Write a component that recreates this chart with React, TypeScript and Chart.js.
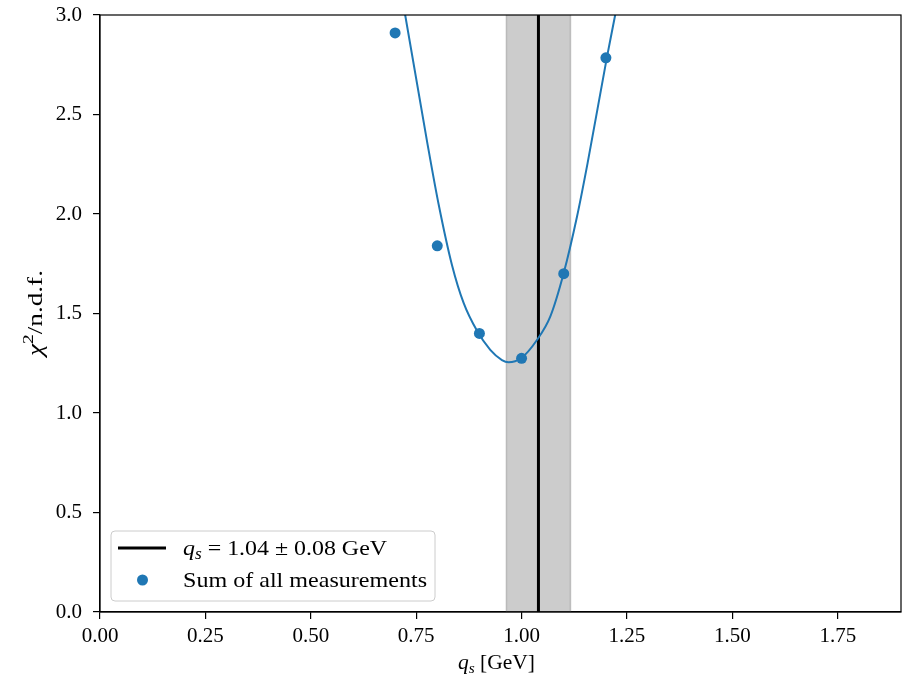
import React, { useEffect, useRef } from "react";
import { Chart, registerables } from "chart.js";

Chart.register(...registerables);

// ---- data ----
const xTicks = [0, 0.25, 0.5, 0.75, 1.0, 1.25, 1.5, 1.75];
const yTicks = [0, 0.5, 1.0, 1.5, 2.0, 2.5, 3.0];
const qsValues = [0.7, 0.8, 0.9, 1.0, 1.1, 1.2];
const chi2Values = [2.91, 1.84, 1.4, 1.275, 1.7, 2.785];
const fitX = [0.7, 0.7239, 0.777, 0.8031, 0.8347, 0.8625, 0.894, 0.9257, 0.9534, 0.969, 0.9986, 1.0365, 1.068, 1.0998, 1.1314, 1.1567, 1.2025, 1.222, 1.24];
const fitY = [3.32, 3.0, 2.35, 2.05, 1.745, 1.553, 1.414, 1.317, 1.266, 1.255, 1.275, 1.367, 1.484, 1.702, 1.986, 2.257, 2.788, 3.0, 3.2];
const qsBest = 1.04;
const qsBandLow = 0.964;
const qsBandHigh = 1.116;
const legendLine = "q_s = 1.04 ± 0.08 GeV";
const legendPoints = "Sum of all measurements";

const SERIF = '"Liberation Serif", "DejaVu Serif", serif';
const BLUE = "#1f77b4";

type Run = { text: string; font: string; dy?: number };

function drawRuns(ctx: CanvasRenderingContext2D, runs: Run[], x: number, y: number, target?: number) {
  let total = 0;
  const widths = runs.map((r) => {
    ctx.font = r.font;
    const w = ctx.measureText(r.text).width;
    total += w;
    return w;
  });
  const sx = target ? target / total : 1;
  ctx.save();
  ctx.translate(x, y);
  ctx.scale(sx, 1);
  let cx = 0;
  runs.forEach((r, i) => {
    ctx.font = r.font;
    ctx.fillText(r.text, cx, r.dy || 0);
    cx += widths[i];
  });
  ctx.restore();
}

const decorPlugin = {
  id: "decor",
  beforeDatasetsDraw(chart: any) {
    const { ctx, chartArea, scales } = chart;
    const x1 = scales.x.getPixelForValue(qsBandLow);
    const x2 = scales.x.getPixelForValue(qsBandHigh);
    ctx.save();
    ctx.fillStyle = "rgba(128,128,128,0.4)";
    ctx.fillRect(x1, chartArea.top, x2 - x1, chartArea.bottom - chartArea.top);
    ctx.strokeStyle = "rgba(128,128,128,0.4)";
    ctx.lineWidth = 1.5;
    ctx.beginPath();
    ctx.moveTo(x1, chartArea.top);
    ctx.lineTo(x1, chartArea.bottom);
    ctx.moveTo(x2, chartArea.top);
    ctx.lineTo(x2, chartArea.bottom);
    ctx.stroke();
    ctx.restore();
  },
  afterDraw(chart: any) {
    const { ctx, chartArea } = chart;
    ctx.save();
    // frame
    ctx.strokeStyle = "#000";
    ctx.lineWidth = 1.2;
    ctx.strokeRect(chartArea.left, chartArea.top, chartArea.right - chartArea.left, chartArea.bottom - chartArea.top);

    ctx.fillStyle = "#000";
    ctx.textBaseline = "alphabetic";
    ctx.textAlign = "left";
    // x title
    const [qPart, rest] = legendLine.split(" = ");
    drawRuns(
      ctx,
      [
        { text: "q", font: `italic 21px ${SERIF}` },
        { text: "s", font: `italic 15px ${SERIF}`, dy: 4 },
        { text: " [GeV]", font: `21px ${SERIF}` },
      ],
      458,
      669,
      77
    );
    // y title (rotated)
    ctx.save();
    ctx.translate(42, 356);
    ctx.rotate(-Math.PI / 2);
    drawRuns(
      ctx,
      [
        { text: "χ", font: `italic 21px ${SERIF}` },
        { text: "2", font: `15px ${SERIF}`, dy: -9 },
        { text: "/n.d.f.", font: `21px ${SERIF}` },
      ],
      0,
      0,
      86
    );
    ctx.restore();

    // legend
    const bx = 111, by = 531, bw = 324, bh = 70;
    ctx.beginPath();
    ctx.roundRect(bx, by, bw, bh, 4);
    ctx.fillStyle = "rgba(255,255,255,0.8)";
    ctx.fill();
    ctx.strokeStyle = "#cccccc";
    ctx.lineWidth = 1;
    ctx.stroke();

    ctx.strokeStyle = "#000";
    ctx.lineWidth = 3;
    ctx.beginPath();
    ctx.moveTo(118, 548);
    ctx.lineTo(166, 548);
    ctx.stroke();

    ctx.fillStyle = BLUE;
    ctx.beginPath();
    ctx.arc(142.5, 580, 5.5, 0, Math.PI * 2);
    ctx.fill();

    ctx.fillStyle = "#000";
    drawRuns(
      ctx,
      [
        { text: qPart.charAt(0), font: `italic 22px ${SERIF}` },
        { text: "s", font: `italic 16px ${SERIF}`, dy: 4 },
        { text: " = " + rest, font: `22px ${SERIF}` },
      ],
      183,
      555,
      204
    );
    drawRuns(ctx, [{ text: legendPoints, font: `22px ${SERIF}` }], 183, 587, 244);
    ctx.restore();
  },
};

export default function App() {
  const ref = useRef<HTMLCanvasElement | null>(null);
  useEffect(() => {
    document.body.style.margin = "0";
    const canvas = ref.current!;
    const axisCommon = {
      type: "linear" as const,
      grid: {
        display: true,
        drawOnChartArea: false,
        drawTicks: true,
        tickLength: 7,
        color: "#000",
        lineWidth: 1.2,
      },
      border: { display: true, color: "#000", width: 1.2 },
    };
    const chart = new Chart(canvas, {
      type: "scatter",
      data: {
        datasets: [
          {
            label: legendPoints,
            data: qsValues.map((x, i) => ({ x, y: chi2Values[i] })),
            backgroundColor: BLUE,
            borderColor: BLUE,
            pointRadius: 5.5,
            pointBorderWidth: 0,
            showLine: false,
            order: 1,
          },
          {
            label: "fit",
            data: fitX.map((x, i) => ({ x, y: fitY[i] })),
            borderColor: BLUE,
            borderWidth: 2,
            pointRadius: 0,
            showLine: true,
            cubicInterpolationMode: "monotone",
            order: 2,
          },
          {
            label: legendLine,
            data: [
              { x: qsBest, y: 0 },
              { x: qsBest, y: 3 },
            ],
            borderColor: "#000",
            borderWidth: 3,
            pointRadius: 0,
            showLine: true,
            tension: 0,
            order: 3,
          },
        ] as any,
      },
      options: {
        animation: false,
        responsive: false,
        layout: { padding: { top: 15, right: 12, left: 0, bottom: 0 } },
        plugins: { legend: { display: false }, tooltip: { enabled: false } },
        scales: {
          x: {
            ...axisCommon,
            min: 0,
            max: 1.9,
            afterBuildTicks: (s: any) => {
              s.ticks = xTicks.map((v) => ({ value: v }));
            },
            afterFit: (s: any) => {
              s.height = 68;
              s.paddingLeft = 0;
              s.paddingRight = 0;
            },
            ticks: {
              color: "#000",
              padding: 5,
              font: { family: SERIF, size: 21 },
              maxRotation: 0,
              callback: (v: any) => Number(v).toFixed(2),
            },
          },
          y: {
            ...axisCommon,
            min: 0,
            max: 3,
            afterBuildTicks: (s: any) => {
              s.ticks = yTicks.map((v) => ({ value: v }));
            },
            afterFit: (s: any) => {
              s.width = 100;
              s.paddingTop = 0;
              s.paddingBottom = 0;
            },
            ticks: {
              color: "#000",
              padding: 11,
              font: { family: SERIF, size: 21 },
              callback: (v: any) => Number(v).toFixed(1),
            },
          },
        },
      },
      plugins: [decorPlugin],
    });
    return () => chart.destroy();
  }, []);
  return (
    <div style={{ position: "absolute", left: 0, top: 0, width: 913, height: 680 }}>
      <canvas ref={ref} width={913} height={680} />
    </div>
  );
}
